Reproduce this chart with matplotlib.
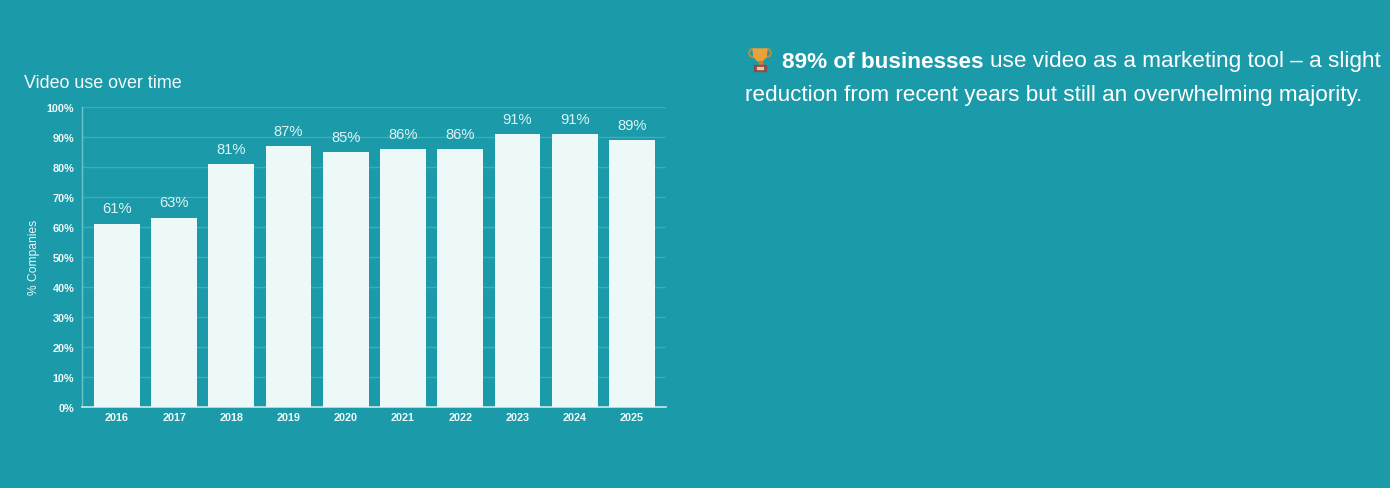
import matplotlib
matplotlib.use('Agg')
import matplotlib.pyplot as plt
from matplotlib.patches import Polygon, Rectangle, Ellipse

plt.rcParams['font.family'] = ['Liberation Sans', 'DejaVu Sans']

annees = ['2016', '2017', '2018', '2019', '2020', '2021', '2022', '2023', '2024', '2025']
valeurs = [61, 63, 81, 87, 85, 86, 86, 91, 91, 89]
graduations = [0, 10, 20, 30, 40, 50, 60, 70, 80, 90, 100]

FOND = '#1B9AAA'
BARRE = '#EDF9F9'
W, H = 1390, 489

fig = plt.figure(figsize=(W / 100, H / 100), dpi=100, facecolor=FOND)

# Zone du graphique (en pixels de l'image)
ax = fig.add_axes([82 / W, 1 - 407.5 / H, 584 / W, 299.5 / H], facecolor=FOND)
x = list(range(len(annees)))
ax.bar(x, valeurs, width=0.8, color=BARRE, zorder=3)
ax.set_xlim(-0.61, 9.595)
ax.set_ylim(0, 100)

for i, v in zip(x, valeurs):
    ax.text(i, v + 2.8, f'{v}%', ha='center', va='bottom', color='#DDF4F5', fontsize=10.6, zorder=4)

ax.set_xticks(x)
ax.set_xticklabels(annees)
ax.set_yticks(graduations)
ax.set_yticklabels([f'{g}%' for g in graduations])
ax.tick_params(axis='x', length=0, pad=4, labelsize=7.8, labelcolor='#F2FBFB')
ax.tick_params(axis='y', length=0, pad=5.5, labelsize=7.8, labelcolor='#F2FBFB')
for lab in ax.get_xticklabels() + ax.get_yticklabels():
    lab.set_fontweight('bold')

ax.grid(axis='y', color='#40ABB8', linewidth=1, zorder=1)
ax.set_axisbelow(True)
for side in ['top', 'right']:
    ax.spines[side].set_visible(False)
ax.spines['left'].set_color('#6CC4CE')
ax.spines['left'].set_linewidth(1)
ax.spines['bottom'].set_color('#C5EBEE')
ax.spines['bottom'].set_linewidth(1.2)

fig.text(34 / W, 1 - 257 / H, '% Companies', rotation=90, ha='center', va='center',
         color='#E4F6F7', fontsize=8.7)
fig.text(24 / W, 1 - 83.5 / H, 'Video use over time', ha='left', va='center',
         color='#F2FBFB', fontsize=12.9)

# Texte de droite : gras puis normal sur la meme ligne
TAILLE = 16.2
base1 = 1 - 67.5 / H
base2 = 1 - 101 / H
t1 = fig.text(782 / W, base1, '89% of businesses', ha='left', va='baseline',
              color='white', fontsize=TAILLE, fontweight='bold')
fig.canvas.draw()
fin = t1.get_window_extent().x1
fig.text((fin + 6.2) / W, base1, 'use video as a marketing tool \u2013 a slight', ha='left', va='baseline',
         color='white', fontsize=TAILLE)
fig.text(745 / W, base2, 'reduction from recent years but still an overwhelming majority.', ha='left',
         va='baseline', color='white', fontsize=TAILLE)

# Petite icone trophee
ic = fig.add_axes([748 / W, 1 - 74 / H, 24 / W, 26 / H])
ic.set_xlim(0, 24)
ic.set_ylim(26, 0)
ic.axis('off')
ic.add_patch(Ellipse((5, 6), 8, 8, fill=False, edgecolor='#D08A2A', linewidth=1.2))
ic.add_patch(Ellipse((19, 6), 8, 8, fill=False, edgecolor='#D08A2A', linewidth=1.2))
ic.add_patch(Polygon([(5, 2), (19, 2), (18, 10), (14, 14), (10, 14), (6, 10)], color='#E9A23B'))
ic.add_patch(Rectangle((10.5, 14), 3, 4, color='#C9832A'))
ic.add_patch(Rectangle((6, 18), 12, 6, color='#8E4A4A'))
ic.add_patch(Rectangle((9, 20), 6, 1.6, color='#E7C9A0'))

fig.savefig('out.png', dpi=100, facecolor=FOND)
